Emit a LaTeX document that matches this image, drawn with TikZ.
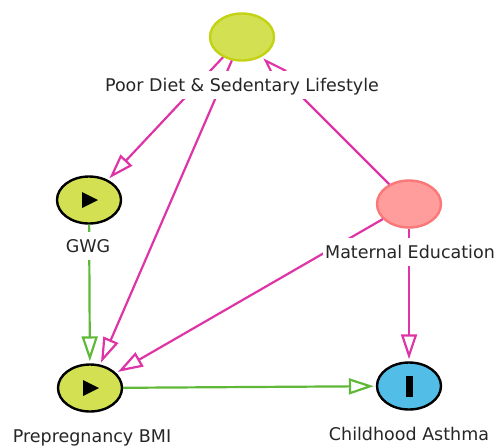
\documentclass[tikz,border=0pt]{standalone}
\usepackage{fontspec}
\setmainfont{DejaVu Sans}
\usetikzlibrary{arrows.meta,shapes.geometric}
\definecolor{ygfill}{RGB}{210,224,82}
\definecolor{ygedge}{RGB}{196,210,20}
\definecolor{pkfill}{RGB}{255,156,156}
\definecolor{pkedge}{RGB}{250,120,120}
\definecolor{blfill}{RGB}{82,190,232}
\definecolor{causal}{RGB}{222,52,166}
\definecolor{green}{RGB}{96,184,56}
\tikzset{
  var/.style={ellipse, minimum width=64pt, minimum height=47pt, inner sep=0pt, line width=2.4pt},
  latent/.style={var, fill=ygfill, draw=ygedge},
  confound/.style={var, fill=pkfill, draw=pkedge},
  exposure/.style={var, fill=ygfill, draw=black},
  outcome/.style={var, fill=blfill, draw=black},
  vlabel/.style={fill=white, inner xsep=2pt, inner ysep=5pt, text height=15.5pt, text depth=3pt,
    font=\fontsize{17.5}{20}\selectfont, text=black!85},
  tipshape/.style={-{Triangle[open, length=25pt, width=16pt, line width=2.2pt]}, shorten >=2pt},
  biasarr/.style={draw=causal, line width=2.2pt, tipshape},
  causarr/.style={draw=green, line width=2.2pt, tipshape},
}
\begin{document}
\begin{tikzpicture}[x=1pt, y=-1pt]
\useasboundingbox (0,0) rectangle (497,445);
% variables
\node[latent]   (diet) at (242,37)  {};
\node[exposure] (gwg)  at (89,200)  {};
\node[exposure] (bmi)  at (90,388)  {};
\node[confound] (edu)  at (409,204) {};
\node[outcome]  (ast)  at (409,386) {};
% icons
\fill (gwg.center) ++(-7,-8) -- ++(16,8) -- ++(-16,8) -- cycle;
\fill (bmi.center) ++(-7,-8) -- ++(16,8) -- ++(-16,8) -- cycle;
\fill (ast.center) ++(-3.5,-10.5) rectangle ++(7,21);
% arrows
\draw[biasarr] (diet) -- (gwg);
\draw[biasarr] (diet) -- (bmi);
\draw[biasarr] (edu) -- (diet);
\draw[biasarr] (edu) -- (bmi);
\draw[biasarr] (edu) -- (ast);
\draw[causarr] (gwg) -- (bmi);
\draw[causarr] (bmi) -- (ast);
% labels
\node[vlabel] (dietL) at (242,85)  {Poor Diet \& Sedentary Lifestyle};
\node[vlabel] (gwgL)  at (88,246)  {GWG};
\node[vlabel] (bmiL)  at (92,436)  {Prepregnancy BMI};
\node[vlabel] (eduL)  at (410,252) {Maternal Education};
\node[vlabel] (astL)  at (409,434) {Childhood Asthma};
\end{tikzpicture}
\end{document}
